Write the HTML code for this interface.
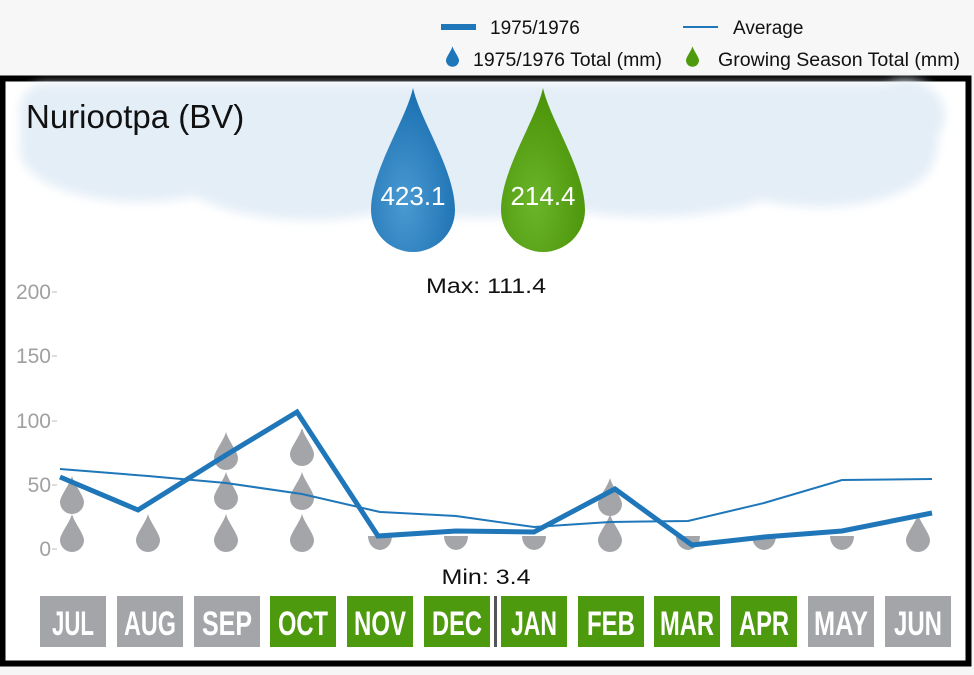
<!DOCTYPE html>
<html><head><meta charset="utf-8"><style>
html,body{margin:0;padding:0;}
body{width:974px;height:670px;overflow:hidden;background:#f6f6f6;font-family:"Liberation Sans",sans-serif;}
</style></head><body>
<svg width="974" height="670" viewBox="0 0 974 670" xmlns="http://www.w3.org/2000/svg" font-family="Liberation Sans, sans-serif">
<defs>
<symbol id="dr" viewBox="0 0 24 38"><path d="M12 0 C14 8 24 20 24 26 A12 12 0 0 1 0 26 C0 20 10 8 12 0Z"/></symbol>
<radialGradient id="bg1" cx="0.4" cy="0.7" r="0.7"><stop offset="0" stop-color="#4a9ad2"/><stop offset="1" stop-color="#1a6fb0"/></radialGradient>
<radialGradient id="gg1" cx="0.4" cy="0.7" r="0.7"><stop offset="0" stop-color="#6ab52a"/><stop offset="1" stop-color="#4a9208"/></radialGradient>
<filter id="bl" x="-10%" y="-20%" width="120%" height="140%"><feGaussianBlur stdDeviation="5"/></filter>
</defs>
<rect x="0" y="0" width="974" height="78" fill="#f7f7f7"/>
<!-- legend -->
<rect x="441" y="24" width="35" height="6" fill="#1f77b9"/>
<text x="490" y="34" font-size="19" fill="#111">1975/1976</text>
<rect x="683" y="26" width="35" height="2" fill="#1f77b9"/>
<text x="733" y="34" font-size="19" fill="#111">Average</text>
<use href="#dr" x="446" y="45" width="13" height="23" fill="#1f77b9"/>
<text x="473" y="66" font-size="19" fill="#111" textLength="189" lengthAdjust="spacingAndGlyphs">1975/1976 Total (mm)</text>
<use href="#dr" x="686" y="45" width="13" height="23" fill="#4e9a0e"/>
<text x="718" y="66" font-size="19" fill="#111" textLength="242" lengthAdjust="spacingAndGlyphs">Growing Season Total (mm)</text>
<!-- frame -->
<rect x="2.5" y="78.5" width="966" height="585" fill="#fff" stroke="#000" stroke-width="6"/>
<!-- cloud -->
<g fill="#e4eef7" filter="url(#bl)">
<rect x="20" y="84" width="918" height="85" rx="25"/>
<ellipse cx="140" cy="150" rx="120" ry="52"/>
<ellipse cx="310" cy="165" rx="140" ry="55"/>
<ellipse cx="480" cy="180" rx="130" ry="38"/>
<ellipse cx="650" cy="172" rx="145" ry="45"/>
<ellipse cx="820" cy="155" rx="115" ry="52"/>
<ellipse cx="905" cy="115" rx="40" ry="35"/>
</g>
<text x="26" y="128" font-size="33" fill="#111">Nuriootpa (BV)</text>
<!-- big drops -->
<path d="M413 88 C420 120 455 170 455 210 A42 42 0 0 1 371 210 C371 170 406 120 413 88Z" fill="url(#bg1)"/>
<path d="M543 88 C550 120 585 170 585 210 A42 42 0 0 1 501 210 C501 170 536 120 543 88Z" fill="url(#gg1)"/>
<text x="413" y="205" font-size="26" fill="#fff" text-anchor="middle">423.1</text>
<text x="543" y="205" font-size="26" fill="#fff" text-anchor="middle">214.4</text>
<text x="486" y="293" font-size="21" fill="#111" text-anchor="middle" textLength="120" lengthAdjust="spacingAndGlyphs">Max: 111.4</text>
<!-- y axis -->
<g font-size="21" fill="#a0a0a0" text-anchor="end">
<text x="51" y="299">200</text><text x="51" y="363">150</text><text x="51" y="428">100</text><text x="51" y="492">50</text><text x="51" y="556">0</text>
</g>
<g stroke="#bbb" stroke-width="1"><line x1="52" y1="292" x2="57" y2="292"/><line x1="52" y1="356" x2="57" y2="356"/><line x1="52" y1="421" x2="57" y2="421"/><line x1="52" y1="485" x2="57" y2="485"/><line x1="52" y1="549" x2="57" y2="549"/></g>
<!-- gray drops -->
<g fill="#a3a5a8">
<use href="#dr" x="60" y="514" width="24" height="38"/>
<use href="#dr" x="60" y="476" width="24" height="38"/>
<use href="#dr" x="136" y="514" width="24" height="38"/>
<use href="#dr" x="214" y="514" width="24" height="38"/>
<use href="#dr" x="214" y="472" width="24" height="38"/>
<use href="#dr" x="214" y="432" width="24" height="38"/>
<use href="#dr" x="290" y="514" width="24" height="38"/>
<use href="#dr" x="290" y="472" width="24" height="38"/>
<use href="#dr" x="290" y="428" width="24" height="38"/>
<use href="#dr" x="598" y="514" width="24" height="38"/>
<use href="#dr" x="598" y="478" width="24" height="38"/>
<use href="#dr" x="906" y="514" width="24" height="38"/>
<path d="M368 536 h24 a12 14 0 0 1 -24 0Z"/>
<path d="M444 536 h24 a12 14 0 0 1 -24 0Z"/>
<path d="M522 536 h24 a12 14 0 0 1 -24 0Z"/>
<path d="M676 536 h24 a12 14 0 0 1 -24 0Z"/>
<path d="M752 536 h24 a12 14 0 0 1 -24 0Z"/>
<path d="M830 536 h24 a12 14 0 0 1 -24 0Z"/>
</g>
<!-- lines -->
<polyline fill="none" stroke="#1f77b9" stroke-width="2" points="60,469 148,476 226,483 302,494 380,512 456,516 534,527 610,522 688,521 764,503 842,480 932,479"/>
<polyline fill="none" stroke="#1f77b9" stroke-width="5" stroke-linejoin="miter" points="60,477 138,510 226,455 297,412 378,536 456,531 534,532 615,489 692,545 764,537 842,531 932,513"/>
<text x="486" y="584" font-size="21" fill="#111" text-anchor="middle" textLength="89" lengthAdjust="spacingAndGlyphs">Min: 3.4</text>
<!-- month boxes -->
<g font-size="34" font-weight="bold" fill="#fff" text-anchor="middle">
<rect x="40" y="596" width="66" height="51" fill="#a3a5a8"/><text x="73" y="635" textLength="42" lengthAdjust="spacingAndGlyphs">JUL</text>
<rect x="117" y="596" width="66" height="51" fill="#a3a5a8"/><text x="150" y="635" textLength="52" lengthAdjust="spacingAndGlyphs">AUG</text>
<rect x="194" y="596" width="66" height="51" fill="#a3a5a8"/><text x="227" y="635" textLength="50" lengthAdjust="spacingAndGlyphs">SEP</text>
<rect x="270" y="596" width="66" height="51" fill="#4e9a0e"/><text x="303" y="635" textLength="50" lengthAdjust="spacingAndGlyphs">OCT</text>
<rect x="347" y="596" width="66" height="51" fill="#4e9a0e"/><text x="380" y="635" textLength="52" lengthAdjust="spacingAndGlyphs">NOV</text>
<rect x="424" y="596" width="66" height="51" fill="#4e9a0e"/><text x="457" y="635" textLength="50" lengthAdjust="spacingAndGlyphs">DEC</text>
<rect x="494" y="596" width="3" height="51" fill="#555"/>
<rect x="501" y="596" width="66" height="51" fill="#4e9a0e"/><text x="534" y="635" textLength="46" lengthAdjust="spacingAndGlyphs">JAN</text>
<rect x="578" y="596" width="66" height="51" fill="#4e9a0e"/><text x="611" y="635" textLength="48" lengthAdjust="spacingAndGlyphs">FEB</text>
<rect x="654" y="596" width="66" height="51" fill="#4e9a0e"/><text x="687" y="635" textLength="54" lengthAdjust="spacingAndGlyphs">MAR</text>
<rect x="731" y="596" width="66" height="51" fill="#4e9a0e"/><text x="764" y="635" textLength="50" lengthAdjust="spacingAndGlyphs">APR</text>
<rect x="808" y="596" width="66" height="51" fill="#a3a5a8"/><text x="841" y="635" textLength="54" lengthAdjust="spacingAndGlyphs">MAY</text>
<rect x="885" y="596" width="66" height="51" fill="#a3a5a8"/><text x="918" y="635" textLength="48" lengthAdjust="spacingAndGlyphs">JUN</text>
</g>
</svg>
</body></html>
